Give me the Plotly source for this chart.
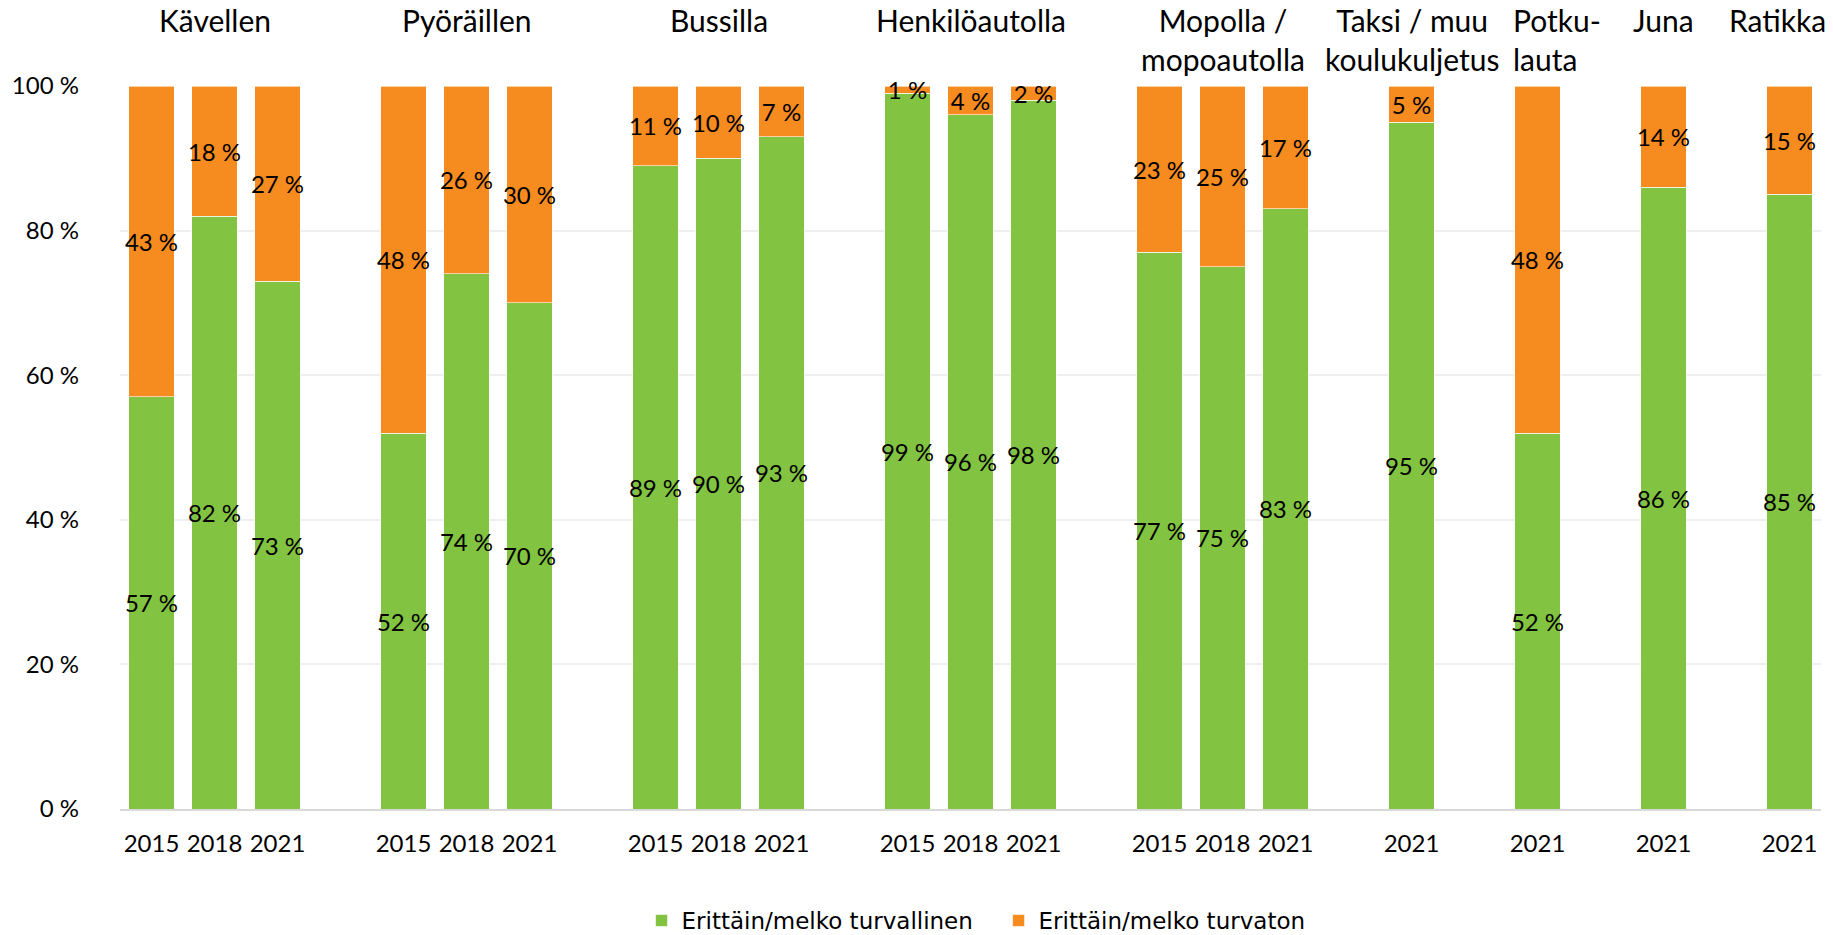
import plotly.graph_objects as go

groups = ["Kävellen", "Pyöräillen", "Bussilla", "Henkilöautolla",
          "Mopolla /<br>mopoautolla", "Taksi / muu<br>koulukuljetus",
          "Potku-<br>lauta", "Juna", "Ratikka"]
years = [["2015", "2018", "2021"]] * 5 + [["2021"]] * 4
safe = [[57, 82, 73], [52, 74, 70], [89, 90, 93], [99, 96, 98], [77, 75, 83],
        [95], [52], [86], [85]]
unsafe = [[43, 18, 27], [48, 26, 30], [11, 10, 7], [1, 4, 2], [23, 25, 17],
          [5], [48], [14], [15]]
series_names = ["Erittäin/melko turvallinen", "Erittäin/melko turvaton"]
colors = ["#82C341", "#F68B1F"]
y_ticks = [0, 20, 40, 60, 80, 100]
y_tick_text = [f"{v} %" for v in y_ticks]

FONT = "Lato"

# positions: one empty slot between groups
xs, tick_text, safe_flat, unsafe_flat, group_centers = [], [], [], [], []
pos = 0
for g, yrs, s, u in zip(groups, years, safe, unsafe):
    gx = []
    for yr, sv, uv in zip(yrs, s, u):
        xs.append(pos)
        gx.append(pos)
        tick_text.append(yr)
        safe_flat.append(sv)
        unsafe_flat.append(uv)
        pos += 1
    group_centers.append(sum(gx) / len(gx))
    pos += 1
last_x = xs[-1]

fig = go.Figure()
for name, vals, col in zip(series_names, [safe_flat, unsafe_flat], colors):
    fig.add_trace(go.Bar(
        x=xs, y=vals, name=name,
        marker=dict(color=col, line=dict(color="rgba(255,255,255,0.6)", width=1)),
        text=[f"{v} %" for v in vals],
        textposition="inside", insidetextanchor="middle",
        constraintext="none", textangle=0, cliponaxis=False,
        textfont=dict(family=FONT, size=24, color="black"),
        hoverinfo="skip",
    ))

annotations = []
for g, cx in zip(groups, group_centers):
    a = dict(x=cx, y=1, xref="x", yref="paper", text=g, showarrow=False,
             yanchor="top", yshift=86, xanchor="center", align="center",
             font=dict(family=FONT, size=30, color="black"))
    if g.startswith("Potku"):
        a.update(x=cx - 0.42, xanchor="left", align="left")
    if g == "Ratikka":
        a.update(xshift=-12)
    annotations.append(a)

fig.update_layout(
    width=1833, height=935,
    margin=dict(l=115, r=12, t=86, b=126),
    barmode="stack", bargap=0.28,
    plot_bgcolor="white", paper_bgcolor="white",
    font=dict(family=FONT, size=24, color="black"),
    annotations=annotations,
    legend=dict(orientation="h", x=0.5165, xanchor="center",
                yref="container", y=14.5 / 935, yanchor="middle",
                font=dict(family="DejaVu Sans", size=23, color="black"),
                traceorder="normal", itemwidth=30,
                entrywidth=312, entrywidthmode="pixels"),
    xaxis=dict(range=[-0.5, last_x + 0.5], tickvals=xs, ticktext=tick_text,
               showgrid=False, showline=True, linecolor="#d9d9d9", linewidth=2,
               ticks="", ticklabelstandoff=12, zeroline=False,
               tickfont=dict(family=FONT, size=24, color="black")),
    yaxis=dict(range=[0, 100], tickvals=y_ticks, ticktext=y_tick_text,
               showgrid=True, gridcolor="#efefef", gridwidth=1.5, zeroline=False,
               ticks="", ticklabelstandoff=40,
               tickfont=dict(family=FONT, size=24, color="black")),
)

fig.write_html(
    "out.html",
    config={"displayModeBar": False},
    post_script="document.body.style.margin='0';document.body.style.overflow='hidden';",
)
